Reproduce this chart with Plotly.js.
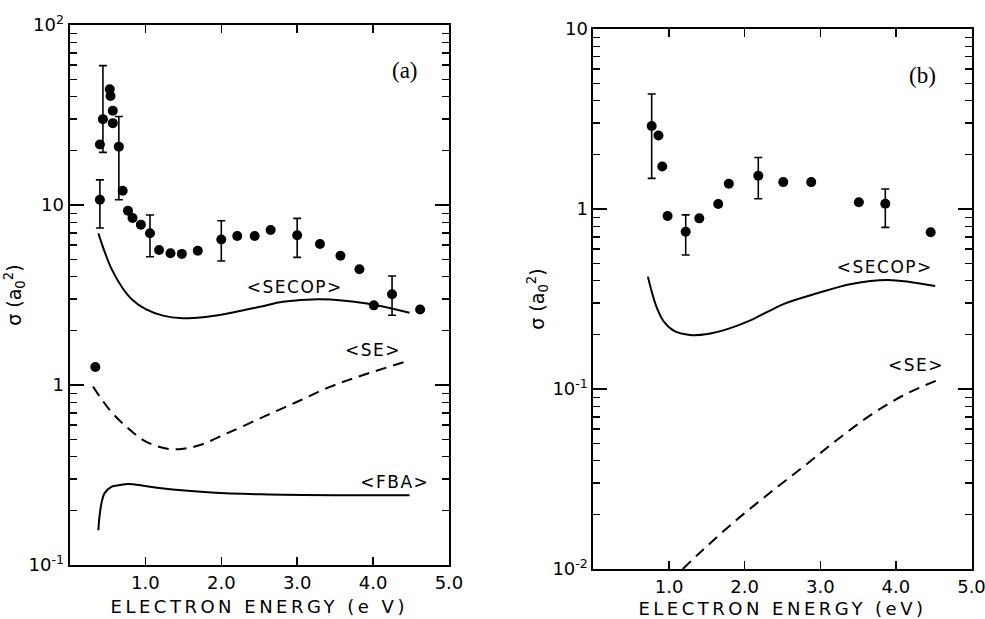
<!DOCTYPE html>
<html>
<head>
<meta charset="utf-8">
<script src="https://cdn.plot.ly/plotly-3.0.1.min.js"></script>
<style>html,body{margin:0;padding:0;background:#fff;}</style>
</head>
<body>
<div id="chart" style="width:985px;height:619px;"></div>
<script>
// ---------- Panel (a) ----------
const aPtsX = [0.40, 0.53, 0.54, 0.57, 0.57, 0.70, 0.77, 0.83, 0.94, 1.18, 1.33, 1.48, 1.69, 2.21, 2.44, 2.65, 3.30, 3.57, 3.82, 4.01, 4.62, 0.34];
const aPtsY = [21.7, 44.0, 40.3, 33.4, 28.5, 12.0, 9.3, 8.47, 7.78, 5.62, 5.39, 5.35, 5.57, 6.73, 6.73, 7.26, 6.07, 5.22, 4.40, 2.77, 2.63, 1.26];
const aErrX  = [0.40, 0.44, 0.65, 1.06, 2.00, 3.00, 4.25];
const aErrY  = [10.7, 30.0, 21.1, 6.97, 6.44, 6.79, 3.19];
const aErrHi = [13.8, 59.5, 31.0, 8.8, 8.18, 8.43, 4.03];
const aErrLo = [7.45, 19.6, 10.7, 5.16, 4.89, 5.12, 2.44];

const aSecopX = [0.38, 0.47, 0.56, 0.70, 0.83, 1.01, 1.23, 1.49, 1.76, 1.98, 2.51, 2.81, 3.30, 3.92, 4.48];
const aSecopY = [6.96, 5.39, 4.36, 3.45, 2.97, 2.63, 2.43, 2.35, 2.38, 2.45, 2.72, 2.90, 3.00, 2.84, 2.52];
const aSeX = [0.31, 0.53, 0.75, 0.97, 1.15, 1.33, 1.50, 1.72, 2.08, 2.56, 3.00, 3.44, 3.88, 4.48];
const aSeY = [0.98, 0.726, 0.586, 0.494, 0.458, 0.44, 0.443, 0.464, 0.54, 0.667, 0.807, 0.98, 1.14, 1.37];
const aFbaX = [0.38, 0.39, 0.42, 0.46, 0.55, 0.66, 0.77, 1.00, 1.21, 1.87, 2.53, 3.50, 4.48];
const aFbaY = [0.156, 0.178, 0.22, 0.25, 0.272, 0.278, 0.282, 0.275, 0.267, 0.253, 0.247, 0.244, 0.244];

// ---------- Panel (b) ----------
const bPtsX = [0.86, 0.91, 0.98, 1.40, 1.65, 1.79, 2.51, 2.88, 3.51, 4.46];
const bPtsY = [2.56, 1.72, 0.915, 0.887, 1.066, 1.38, 1.41, 1.41, 1.09, 0.743];
const bErrX  = [0.77, 1.22, 2.18, 3.86];
const bErrY  = [2.89, 0.748, 1.53, 1.07];
const bErrHi = [4.35, 0.927, 1.93, 1.29];
const bErrLo = [1.48, 0.555, 1.14, 0.79];

const bSecopX = [0.72, 0.77, 0.84, 0.93, 1.06, 1.28, 1.51, 1.77, 2.06, 2.30, 2.52, 2.96, 3.41, 3.89, 4.52];
const bSecopY = [0.421, 0.348, 0.281, 0.237, 0.211, 0.1995, 0.202, 0.215, 0.239, 0.268, 0.297, 0.34, 0.383, 0.403, 0.373];
const bSeX = [1.18, 1.45, 1.89, 2.33, 2.78, 3.22, 3.67, 4.11, 4.55];
const bSeY = [0.0100, 0.0128, 0.0187, 0.0264, 0.0371, 0.0521, 0.0718, 0.0927, 0.112];

// ---------- Tick labels ----------
const xTickVals = [1, 2, 3, 4, 5];
const xTickText = ['1.0', '2.0', '3.0', '4.0', '5.0'];
const aYTickVals = [0.1, 1, 10, 100];
const aYTickText = ['10<sup>-1</sup>', '1', '10', '10<sup>2</sup>'];
const bYTickVals = [0.01, 0.1, 1, 10];
const bYTickText = ['10<sup>-2</sup>', '10<sup>-1</sup>', '1', '10'];

function minorVals(lo, hi) {
  const v = [];
  for (let d = lo; d < hi * 0.999; d *= 10) for (let k = 2; k <= 9; k++) v.push(d * k);
  return v;
}

const BLACK = '#000';
const FONT = 'DejaVu Sans, Liberation Sans, sans-serif';

function errs(y, hi, lo) {
  return {
    type: 'data', symmetric: false,
    array: y.map((v, i) => hi[i] - v),
    arrayminus: y.map((v, i) => v - lo[i]),
    color: BLACK, thickness: 1.6, width: 4
  };
}
const mk = {color: BLACK, size: 10};
const solid = {color: BLACK, width: 2, shape: 'spline', smoothing: 1};
const dashed = {color: BLACK, width: 2, dash: '11px,7px', shape: 'spline', smoothing: 1};

const traces = [
  {x: aPtsX, y: aPtsY, type: 'scatter', mode: 'markers', marker: mk, xaxis: 'x', yaxis: 'y', name: 'exp (a)'},
  {x: aErrX, y: aErrY, type: 'scatter', mode: 'markers', marker: mk, error_y: errs(aErrY, aErrHi, aErrLo), xaxis: 'x', yaxis: 'y', name: 'exp (a) err'},
  {x: aSecopX, y: aSecopY, type: 'scatter', mode: 'lines', line: solid, xaxis: 'x', yaxis: 'y', name: '<SECOP>'},
  {x: aSeX, y: aSeY, type: 'scatter', mode: 'lines', line: dashed, xaxis: 'x', yaxis: 'y', name: '<SE>'},
  {x: aFbaX, y: aFbaY, type: 'scatter', mode: 'lines', line: solid, xaxis: 'x', yaxis: 'y', name: '<FBA>'},

  {x: bPtsX, y: bPtsY, type: 'scatter', mode: 'markers', marker: mk, xaxis: 'x2', yaxis: 'y2', name: 'exp (b)'},
  {x: bErrX, y: bErrY, type: 'scatter', mode: 'markers', marker: mk, error_y: errs(bErrY, bErrHi, bErrLo), xaxis: 'x2', yaxis: 'y2', name: 'exp (b) err'},
  {x: bSecopX, y: bSecopY, type: 'scatter', mode: 'lines', line: solid, xaxis: 'x2', yaxis: 'y2', name: '<SECOP> b'},
  {x: bSeX, y: bSeY, type: 'scatter', mode: 'lines', line: dashed, xaxis: 'x2', yaxis: 'y2', name: '<SE> b'}
];

function xAxis(domain, anchor, title) {
  return {
    domain: domain, anchor: anchor, range: [0, 5],
    tickmode: 'array', tickvals: xTickVals, ticktext: xTickText,
    ticks: 'inside', ticklen: 8, tickwidth: 1.5, tickcolor: BLACK,
    showline: true, linecolor: BLACK, linewidth: 2, mirror: 'ticks',
    showgrid: false, zeroline: false, ticklabeloverflow: 'allow',
    tickfont: {family: FONT, size: 18, color: BLACK},
    title: {text: title, font: {family: FONT, size: 18, color: BLACK}, standoff: 9}
  };
}
function yAxis(domain, anchor, range, tv, tt, lo, hi) {
  return {
    domain: domain, anchor: anchor, type: 'log', range: range,
    tickmode: 'array', tickvals: tv, ticktext: tt,
    ticks: 'inside', ticklen: 14, tickwidth: 1.5, tickcolor: BLACK,
    minor: {tickmode: 'array', tickvals: minorVals(lo, hi), ticks: 'inside', ticklen: 7, tickwidth: 1.3, tickcolor: BLACK, showgrid: false},
    showline: true, linecolor: BLACK, linewidth: 2, mirror: 'ticks',
    showgrid: false, zeroline: false,
    tickfont: {family: FONT, size: 18, color: BLACK},
    title: {text: 'σ (a<sub>0</sub><sup>2</sup>)', font: {family: FONT, size: 19, color: BLACK}}
  };
}

const ann = (text, x, y, size, family) => ({
  text: text, xref: 'paper', yref: 'paper', x: x, y: y, showarrow: false,
  xanchor: 'center', yanchor: 'middle', font: {family: family || FONT, size: size, color: BLACK}
});

const layout = {
  width: 985, height: 619,
  margin: {l: 0, r: 0, t: 0, b: 0},
  paper_bgcolor: '#fff', plot_bgcolor: '#fff',
  showlegend: false,
  font: {family: FONT, color: BLACK},
  xaxis: xAxis([0.0706, 0.4558], 'y', 'ELECTRON ENERGY (e V)'),
  yaxis: yAxis([0.0872, 0.9596], 'x', [-1, 2], aYTickVals, aYTickText, 0.1, 100),
  xaxis2: xAxis([0.6025, 0.9863], 'y2', 'ELECTRON ENERGY (eV)'),
  yaxis2: yAxis([0.0808, 0.9532], 'x2', [-2, 1], bYTickVals, bYTickText, 0.01, 10),
  annotations: [
    ann('(a)', 0.4112, 0.8869, 23, 'Liberation Serif, serif'),
    ann('&lt;SECOP&gt;', 0.2995, 0.5363, 17),
    ann('&lt;SE&gt;', 0.3787, 0.4346, 17),
    ann('&lt;FBA&gt;', 0.4010, 0.2213, 17),
    ann('(b)', 0.9370, 0.8788, 23, 'Liberation Serif, serif'),
    ann('&lt;SECOP&gt;', 0.8985, 0.5687, 17),
    ann('&lt;SE&gt;', 0.9300, 0.4103, 17)
  ]
};

function tweak() {
  document.querySelectorAll('text.xtitle, text.x2title').forEach(function (t) {
    t.setAttribute('letter-spacing', '3.5px');
  });
  document.querySelectorAll('.annotation-text').forEach(function (t) {
    if (t.textContent.indexOf('<') === 0) t.setAttribute('letter-spacing', '1.5px');
  });
}

const gd = document.getElementById('chart');
Plotly.newPlot(gd, traces, layout, {displayModeBar: false, staticPlot: true}).then(function () {
  tweak();
  gd.on('plotly_afterplot', tweak);
});
</script>
</body>
</html>
